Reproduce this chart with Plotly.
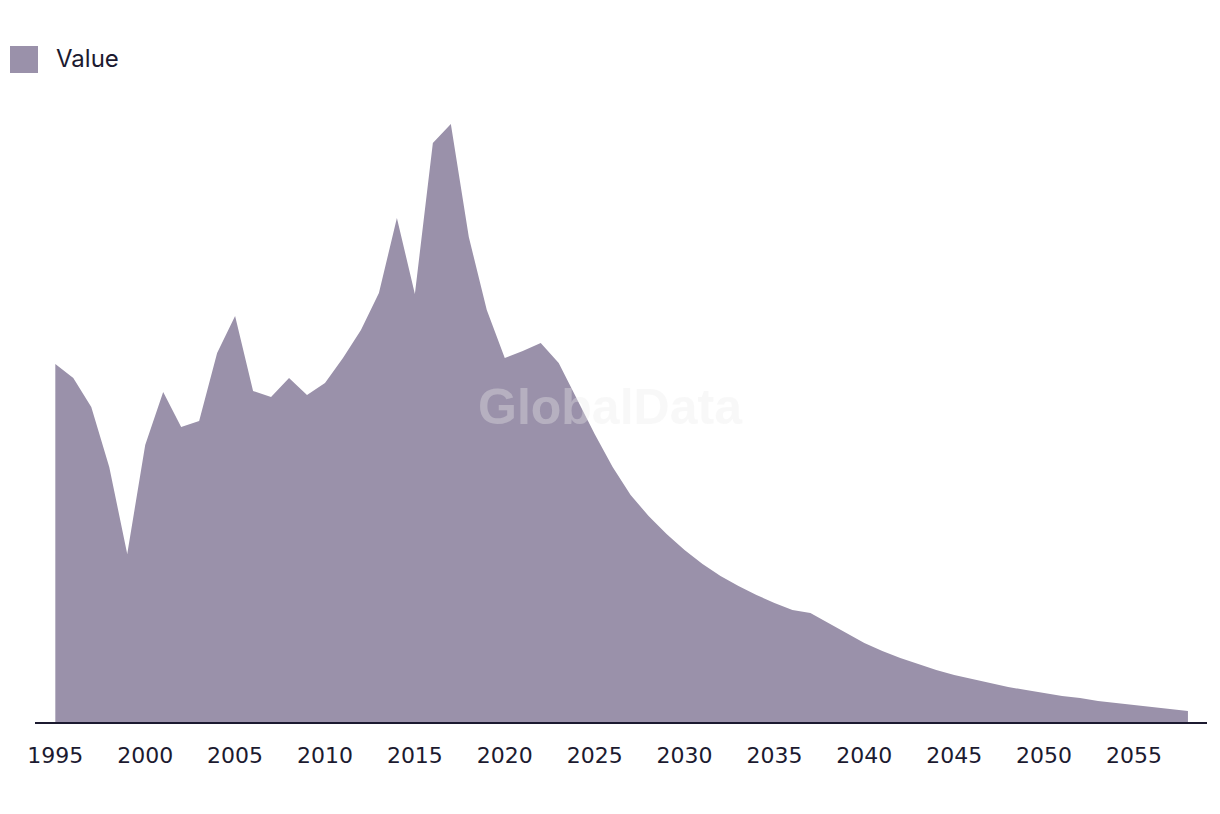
import plotly.graph_objects as go

years = list(range(1995, 2059))
values = [359, 345, 316, 256, 169, 278, 331, 296, 302, 370,
          407, 332, 326, 345, 328, 340, 365, 393, 430, 505,
          429, 580, 599, 486, 413, 365, 372, 380, 360, 325,
          289, 256, 228, 207, 189, 173, 159, 147, 137, 128,
          120, 113, 110, 100, 90, 80, 72, 65, 59, 53,
          48, 44, 40, 36, 33, 30, 27, 25, 22, 20,
          18, 16, 14, 12]
series_name = "Value"
tick_years = list(range(1995, 2060, 5))

W, H = 1220, 814
ML, MR, MT, MB = 35, 13, 100, 91
PW, PH = W - ML - MR, H - MT - MB

AREA = "#9a91aa"
INK = "#1c1a30"

def px_x(p):
    return (p - ML) / PW

def px_y(p):
    return (H - MB - p) / PH

fig = go.Figure()
fig.add_trace(go.Scatter(
    x=years, y=values, name=series_name, mode="lines",
    fill="tozeroy", fillcolor=AREA, line=dict(width=0, color=AREA),
    showlegend=False, hoverinfo="x+y"))

fig.update_layout(
    width=W, height=H,
    margin=dict(l=ML, r=MR, t=MT, b=MB),
    paper_bgcolor="white", plot_bgcolor="white",
    font=dict(family="Inter, Liberation Sans, sans-serif", color=INK),
    xaxis=dict(range=[1993.87, 2059.06], tickmode="array", tickvals=tick_years,
               ticktext=[str(t) for t in tick_years], showgrid=False, zeroline=False,
               showline=False, ticks="",
               tickfont=dict(family="DejaVu Sans, sans-serif", size=22, color=INK),
               ticklabelstandoff=17, fixedrange=True),
    yaxis=dict(range=[0, PH], visible=False, showgrid=False, zeroline=False,
               fixedrange=True),
    shapes=[
        dict(type="line", xref="paper", yref="paper", x0=0, x1=1, y0=0, y1=0,
             line=dict(color=INK, width=2)),
        dict(type="rect", xref="paper", yref="paper",
             x0=px_x(10), x1=px_x(38), y0=px_y(46), y1=px_y(73),
             fillcolor=AREA, line=dict(width=0)),
    ],
    annotations=[
        dict(text=series_name, xref="paper", yref="paper", x=px_x(54), y=px_y(59),
             xanchor="left", yanchor="middle", showarrow=False,
             font=dict(size=24, color=INK)),
        dict(text="<b>GlobalData</b>", xref="paper", yref="paper",
             x=px_x(610), y=px_y(407), xanchor="center", yanchor="middle",
             showarrow=False,
             font=dict(family="Liberation Sans, Arial, sans-serif", size=50,
                       color="rgba(235,235,235,0.35)")),
    ],
)

fig.write_html("out.html")
